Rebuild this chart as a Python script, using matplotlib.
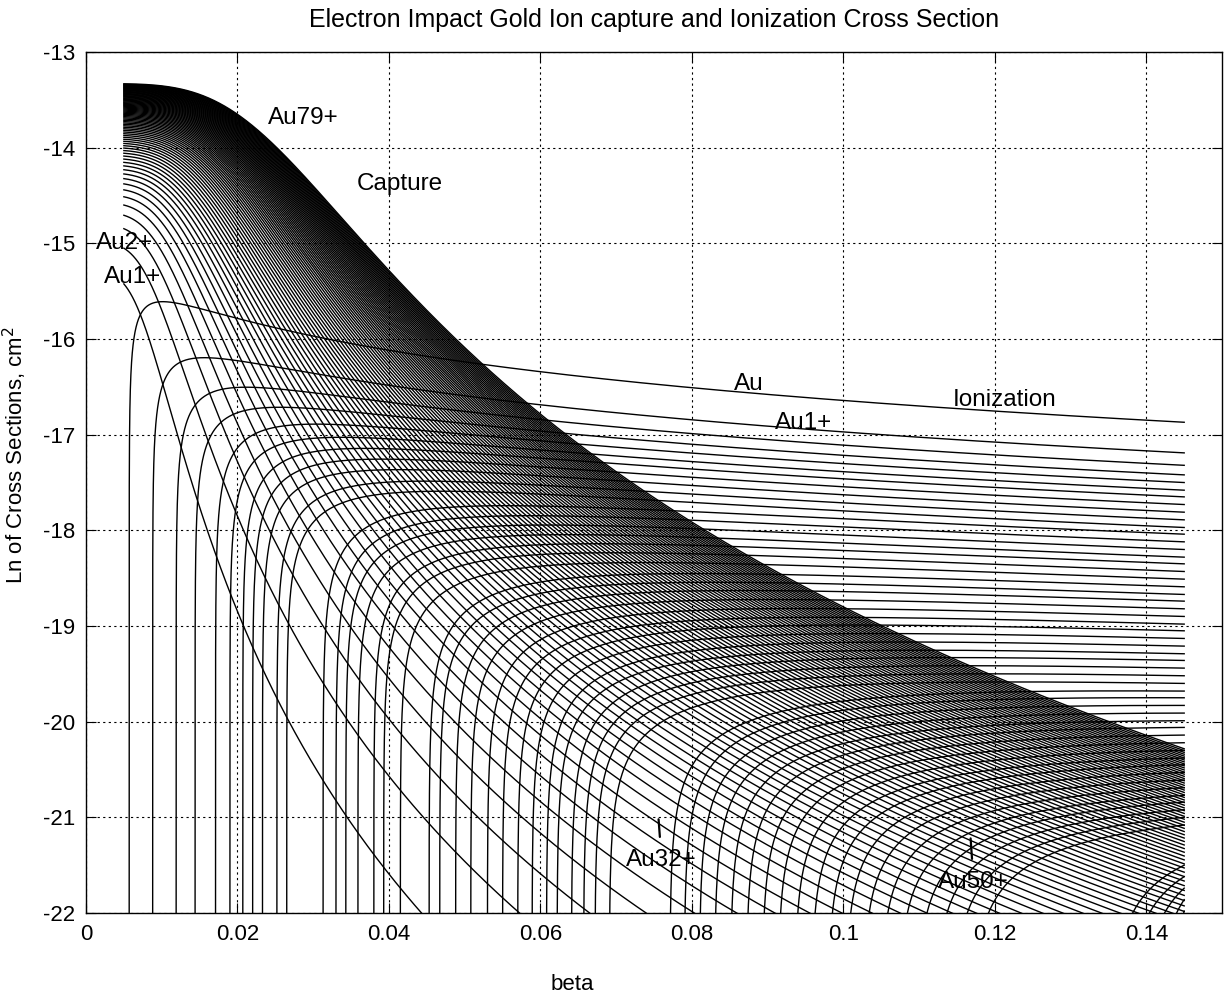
import numpy as np
import matplotlib.pyplot as plt

plt.rcParams['font.family'] = ['Liberation Sans', 'DejaVu Sans']
plt.rcParams['axes.unicode_minus'] = False

# -------------------------
# Values
# -------------------------
# ionization curves Au, Au1+, Au2+, ...: beta where each leaves the bottom axis
ion_threshold = [0.0057, 0.0088, 0.0119, 0.0144, 0.0171, 0.0190, 0.0207, 0.0220, 0.0233, 0.0252, 0.0265,
                 0.0313, 0.0330, 0.0343, 0.0359, 0.0380, 0.0393,
                 0.0415, 0.0453, 0.0467, 0.0488, 0.0508, 0.0530, 0.0550, 0.0570, 0.0589,
                 0.0608, 0.0622, 0.0641, 0.0657, 0.0672, 0.0691,
                 0.0771, 0.0790, 0.0810, 0.0830, 0.0851, 0.0872, 0.0893, 0.0914, 0.0936,
                 0.0958, 0.0980, 0.1003, 0.1026, 0.1049, 0.1073, 0.1097, 0.1121, 0.1145, 0.1170,
                 0.1355, 0.1375, 0.1395, 0.1415, 0.1435]
# ... and the level where each one ends (beta = 0.145)
ion_end = [-16.87, -17.19, -17.32, -17.42, -17.50, -17.58, -17.65, -17.73, -17.81, -17.89, -17.97,
           -18.04, -18.12, -18.20, -18.28, -18.35, -18.43,
           -18.51, -18.59, -18.67, -18.74, -18.82, -18.90, -18.98, -19.05, -19.13,
           -19.21, -19.29, -19.36, -19.44, -19.52, -19.60,
           -19.68, -19.75, -19.83, -19.91, -19.99, -20.06, -20.14, -20.22, -20.30,
           -20.38, -20.45, -20.53, -20.61, -20.69, -20.77, -20.84, -20.92, -21.00, -21.08,
           -21.50, -21.62, -21.74, -21.86, -21.98]
ion_tail_power = 0.87

# capture: Au1+ ... Au79+
cap_charge = np.arange(1, 80)
cap_start = [-15.30, -13.33]    # level at beta = 0.005 for Au1+ and Au79+
cap_knee = [0.0083, 0.0255]     # beta where Au1+ and Au79+ roll over

beta_min, beta_max = 0.005, 0.145


def lotz_shape(x, k):
    return np.log(x) / x ** k


# -------------------------
# Figure
# -------------------------
fig = plt.figure(figsize=(12.25, 10.01), dpi=100)
ax = fig.add_axes([0.0702, 0.0879, 0.9274, 0.8601])
lw = 1.0

# capture curves
lq = np.log(cap_charge / 79.0) / np.log(79.0)
y0 = cap_start[1] + (cap_start[1] - cap_start[0]) * lq
knee = cap_knee[1] * (cap_knee[1] / cap_knee[0]) ** lq
bc = np.geomspace(beta_min, beta_max, 1500)
for lev, kb in zip(y0, knee):
    y = lev - np.log(1 + (bc / kb) ** 4)
    ax.plot(bc, y, color='k', lw=lw)

# ionization curves, x = E / I with E ~ beta^2
k = ion_tail_power
for bt, yend in zip(ion_threshold, ion_end):
    s = np.geomspace(1e-11, beta_max / bt - 1, 1500)
    b = bt * (1 + s)
    x = (b / bt) ** 2
    ref = lotz_shape((beta_max / bt) ** 2, k)
    y = yend + np.log10(lotz_shape(x, k) / ref)
    ax.plot(np.r_[bt, b], np.r_[-30, y], color='k', lw=lw)

ax.set_xlim(0, 0.15)
ax.set_ylim(-22, -13)
ax.set_xticks(np.arange(0, 0.141, 0.02))
ax.set_xticklabels(['0', '0.02', '0.04', '0.06', '0.08', '0.1', '0.12', '0.14'])
ax.set_yticks(np.arange(-22, -12.9, 1))
ax.grid(True, color='k', linestyle=(0, (2, 3)), linewidth=0.8)
ax.tick_params(direction='in', length=7, top=True, right=True, labelsize=16, pad=8)
for sp in ax.spines.values():
    sp.set_linewidth(1.0)

# annotations
fs = 17.5
ax.text(0.0240, -13.69, 'Au79+', fontsize=fs, va='center')
ax.text(0.0358, -14.38, 'Capture', fontsize=fs, va='center')
ax.text(0.0013, -15.0, 'Au2+', fontsize=fs, va='center')
ax.text(0.0024, -15.35, 'Au1+', fontsize=fs, va='center')
ax.text(0.0855, -16.47, 'Au', fontsize=fs, va='center')
ax.text(0.0910, -16.88, 'Au1+', fontsize=fs, va='center')
ax.text(0.1145, -16.64, 'Ionization', fontsize=fs, va='center')
ax.annotate('Au32+', xy=(0.0756, -21.02), xytext=(0.0760, -21.45), fontsize=fs,
            ha='center', va='center',
            arrowprops=dict(arrowstyle='-', lw=1.6, shrinkA=7, shrinkB=0))
ax.annotate('Au50+', xy=(0.1168, -21.22), xytext=(0.1172, -21.68), fontsize=fs,
            ha='center', va='center',
            arrowprops=dict(arrowstyle='-', lw=1.6, shrinkA=7, shrinkB=0))

fig.text(654 / 1225, 1 - 20 / 1001, 'Electron Impact Gold Ion capture and Ionization Cross Section',
         fontsize=18, ha='center', va='center')
fig.text(572 / 1225, 1 - 985 / 1001, 'beta', fontsize=16, ha='center', va='center')
fig.text(15 / 1225, 1 - 455 / 1001, 'Ln of Cross Sections, cm$^2$', fontsize=16,
         ha='center', va='center', rotation=90)

fig.savefig('out.png', dpi=100, facecolor='white')
